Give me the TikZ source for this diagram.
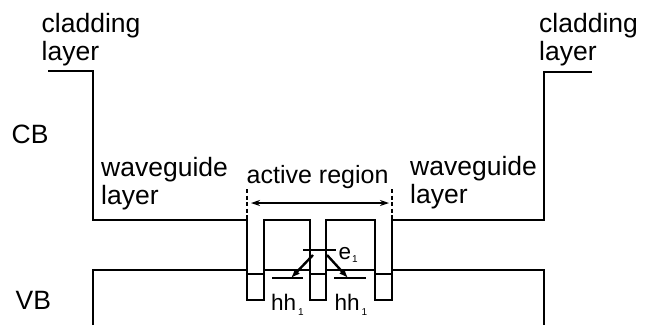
\documentclass[tikz,border=0pt]{standalone}
\usepackage{fontspec}
\setmainfont{Liberation Sans}
\usetikzlibrary{arrows.meta}
\begin{document}
\begin{tikzpicture}[x=1pt,y=-1pt,
  band/.style={line width=2.4pt, line join=miter},
  level/.style={line width=2.4pt},
  trans/.style={line width=2.4pt, -{Latex[length=9pt,width=7pt]}},
  bound/.style={line width=1.8pt, dash pattern=on 4pt off 2.5pt},
  span/.style={line width=1.3pt, {Stealth[length=9pt,width=6pt]}-{Stealth[length=9pt,width=6pt]}},
  lbl/.style={inner sep=0pt, anchor=base west, align=left, font=\fontsize{26.5}{27.5}\selectfont},
  slbl/.style={inner sep=0pt, anchor=base west, font=\fontsize{22.5}{24}\selectfont}]
\useasboundingbox (0,0) rectangle (653,325);
% conduction band
\draw[band] (48,71) -- (93,71) -- (93,220) -- (247,220) -- (247,274) -- (264,274) -- (264,220)
  -- (310,220) -- (310,274) -- (326,274) -- (326,220) -- (375,220) -- (375,274) -- (392,274)
  -- (392,220) -- (544,220) -- (544,72) -- (592,72);
% valence band
\draw[band] (93,325) -- (93,270) -- (247,270) -- (247,300) -- (264,300) -- (264,270)
  -- (310,270) -- (310,300) -- (326,300) -- (326,270) -- (375,270) -- (375,300) -- (392,300)
  -- (392,270) -- (544,270) -- (544,325);
% active region boundaries
\coordinate (dl1) at (247,189); \coordinate (dl2) at (247,220);
\coordinate (dr1) at (392,189); \coordinate (dr2) at (392,220);
\draw[bound] (dl1) -- (dl2);
\draw[bound] (dr1) -- (dr2);
\coordinate (al) at (251,203); \coordinate (ar) at (389,203);
\draw[span] (al) -- (ar);
% levels
\coordinate (e1a) at (303,250); \coordinate (e1b) at (336,250);
\coordinate (h1a) at (272,278); \coordinate (h1b) at (303,278);
\coordinate (h2a) at (334,278); \coordinate (h2b) at (366,278);
\draw[level] (e1a) -- (e1b);
\draw[level] (h1a) -- (h1b);
\draw[level] (h2a) -- (h2b);
\coordinate (t1s) at (313,255); \coordinate (t1e) at (291,278);
\coordinate (t2s) at (327,255); \coordinate (t2e) at (348,278);
\draw[trans] (t1s) -- (t1e);
\draw[trans] (t2s) -- (t2e);
% labels
\node[lbl] (cladL) at (41.5,60) {cladding\\layer};
\node[lbl] (cladR) at (539,60) {cladding\\layer};
\node[lbl] (cb) at (11.5,143.3) {CB};
\node[lbl] (vb) at (15.5,309) {VB};
\node[lbl] (wgL) at (101,204) {waveguide\\layer};
\node[lbl] (wgR) at (410,203) {waveguide\\layer};
\node[inner sep=0pt, anchor=base west, font=\fontsize{25}{26}\selectfont] (act) at (246.5,183.3) {active region};
\node[slbl] (e1) at (338.5,259) {e\kern1pt\raisebox{-3pt}{\fontsize{10}{10}\selectfont 1}};
\node[slbl] (hh1L) at (271,310) {hh\kern2pt\raisebox{-5pt}{\fontsize{10}{10}\selectfont 1}};
\node[slbl] (hh1R) at (334.5,310) {hh\kern2pt\raisebox{-5pt}{\fontsize{10}{10}\selectfont 1}};
\end{tikzpicture}
\end{document}
